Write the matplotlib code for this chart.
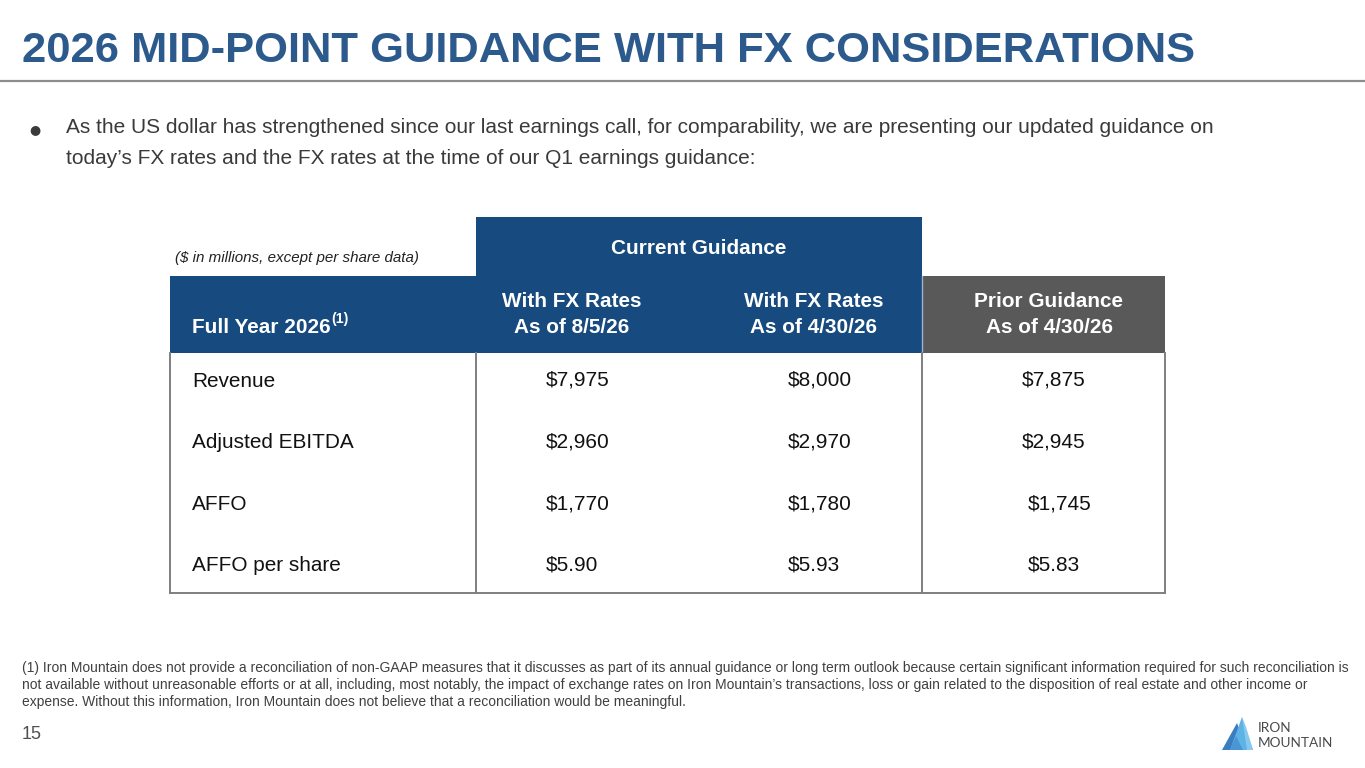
import matplotlib
matplotlib.use("Agg")
import matplotlib.pyplot as plt
from matplotlib import font_manager
from matplotlib.patches import Rectangle, Polygon

# ---------------- data ----------------
title = "2026 MID-POINT GUIDANCE WITH FX CONSIDERATIONS"
bullet_lines = [
    "As the US dollar has strengthened since our last earnings call, for comparability, we are presenting our updated guidance on",
    "today\u2019s FX rates and the FX rates at the time of our Q1 earnings guidance:",
]
units_note = "($ in millions, except per share data)"
group_header = "Current Guidance"
first_col_header = "Full Year 2026"
first_col_sup = "(1)"
col_headers = [
    ["With FX Rates", "As of 8/5/26"],
    ["With FX Rates", "As of 4/30/26"],
    ["Prior Guidance", "As of 4/30/26"],
]
row_labels = ["Revenue", "Adjusted EBITDA", "AFFO", "AFFO per share"]
current_fx_0805 = [7975, 2960, 1770, 5.90]
current_fx_0430 = [8000, 2970, 1780, 5.93]
prior_guidance = [7875, 2945, 1745, 5.83]
footnote_lines = [
    "(1) Iron Mountain does not provide a reconciliation of non-GAAP measures that it discusses as part of its annual guidance or long term outlook because certain significant information required for such reconciliation is",
    "not available without unreasonable efforts or at all, including, most notably, the impact of exchange rates on Iron Mountain\u2019s transactions, loss or gain related to the disposition of real estate and other income or",
    "expense. Without this information, Iron Mountain does not believe that a reconciliation would be meaningful.",
]
page_number = "15"
logo_lines = ["IRON", "MOUNTAIN"]

# ---------------- styles ----------------
names = {f.name for f in font_manager.fontManager.ttflist}
REG = "Liberation Sans" if "Liberation Sans" in names else "DejaVu Sans"
NARROW = "Liberation Sans Narrow" if "Liberation Sans Narrow" in names else REG
LOGO = "Lato" if "Lato" in names else REG

TITLE_BLUE = "#2D5A8C"
HEAD_BLUE = "#174A7E"
HEAD_GRAY = "#595959"
BORDER = "#7F7F7F"
BODY_TXT = "#3A3A3A"

W, H = 1365, 768
fig = plt.figure(figsize=(W / 100, H / 100), dpi=100)
ax = fig.add_axes([0, 0, 1, 1])
ax.set_xlim(0, W)
ax.set_ylim(H, 0)
ax.axis("off")
renderer = fig.canvas.get_renderer()


def text_width(s, size, **kw):
    t = ax.text(0, 0, s, fontsize=size, **kw)
    w = t.get_window_extent(renderer).width
    t.remove()
    return w


def fit(s, target, **kw):
    return 20 * target / text_width(s, 20, **kw)


def fmt(v):
    return f"${v:.2f}" if v < 100 else f"${v:,.0f}"


# ---------------- title ----------------
ts = fit(title, 1173, family=NARROW, weight="bold")
ax.text(22, 62, title, fontsize=ts, family=NARROW, weight="bold",
        color=TITLE_BLUE, va="baseline", ha="left")
ax.plot([0, W], [81, 81], color="#8C8C8C", lw=1.6, solid_capstyle="butt")

# ---------------- bullet ----------------
bs = fit(bullet_lines[0], 1144, family=NARROW)
ax.text(29, 133, "\u25CF", fontsize=bs * 0.62, family="DejaVu Sans",
        color=BODY_TXT, va="baseline", ha="left")
for i, line in enumerate(bullet_lines):
    ax.text(66, 133 + 31 * i, line, fontsize=bs, family=NARROW,
            color=BODY_TXT, va="baseline", ha="left")

# ---------------- table geometry ----------------
x0, x1, x2, x3 = 170, 476, 922, 1165
y_group_top, y_head_top, y_head_bot, y_bot = 217, 276, 353, 593

ax.add_patch(Rectangle((x1, y_group_top), x2 - x1, y_head_bot - y_group_top,
                       facecolor=HEAD_BLUE, edgecolor="none"))
ax.add_patch(Rectangle((x0, y_head_top), x1 - x0, y_head_bot - y_head_top,
                       facecolor=HEAD_BLUE, edgecolor="none"))
ax.add_patch(Rectangle((x2, y_head_top), x3 - x2, y_head_bot - y_head_top,
                       facecolor=HEAD_GRAY, edgecolor="none"))
ax.plot([x2, x2], [y_head_top, y_head_bot], color="#9DB3CC", lw=1.0)

# body borders
for xa in (x0, x1, x2, x3):
    ax.plot([xa, xa], [y_head_bot, y_bot], color=BORDER, lw=1.4)
ax.plot([x0, x3], [y_bot, y_bot], color=BORDER, lw=1.4)

# units note
us = fit(units_note, 243, family=REG, style="italic")
ax.text(175, 262, units_note, fontsize=us, family=REG, style="italic",
        color="#222222", va="baseline", ha="left")

# header texts
hs = fit(col_headers[0][0], 139, family=REG, weight="bold")
ax.text((x1 + x2) / 2, 254, group_header, fontsize=hs, family=REG,
        weight="bold", color="white", va="baseline", ha="center")
col_centers = [572, 814, 1049]
for cx, lines in zip(col_centers, col_headers):
    for j, line in enumerate(lines):
        ax.text(cx, 307 + 26 * j, line, fontsize=hs, family=REG, weight="bold",
                color="white", va="baseline", ha="center")
ax.text(192, 333, first_col_header, fontsize=hs, family=REG, weight="bold",
        color="white", va="baseline", ha="left")
fw = text_width(first_col_header, hs, family=REG, weight="bold")
ax.text(192 + fw + 1, 323, first_col_sup, fontsize=hs * 0.68, family=REG,
        weight="bold", color="white", va="baseline", ha="left")

# body rows
rs = fit("Adjusted EBITDA", 161, family=REG)
vs = fit("$7,975", 64, family=REG)
row_base = [387, 448, 510, 571]
col_left = [546, 788]
col3_left = [1022, 1022, 1028, 1028]
for i, lab in enumerate(row_labels):
    yb = row_base[i]
    ax.text(192, yb, lab, fontsize=rs, family=REG, color="#111111",
            va="baseline", ha="left")
    ax.text(col_left[0], yb - 1, fmt(current_fx_0805[i]), fontsize=vs,
            family=REG, color="#111111", va="baseline", ha="left")
    ax.text(col_left[1], yb - 1, fmt(current_fx_0430[i]), fontsize=vs,
            family=REG, color="#111111", va="baseline", ha="left")
    ax.text(col3_left[i], yb - 1, fmt(prior_guidance[i]), fontsize=vs,
            family=REG, color="#111111", va="baseline", ha="left")

# ---------------- footnote ----------------
fs = fit(footnote_lines[0], 1318, family=NARROW)
for i, line in enumerate(footnote_lines):
    ax.text(22, 672 + 17 * i, line, fontsize=fs, family=NARROW,
            color="#404040", va="baseline", ha="left")

ax.text(22, 739, page_number, fontsize=13, family=NARROW, color="#505050",
        va="baseline", ha="left")

# ---------------- logo ----------------
ax.add_patch(Polygon([(1222, 750), (1237, 723), (1247, 750)], closed=True,
                     facecolor="#3A7EBF", edgecolor="none"))
ax.add_patch(Polygon([(1230, 750), (1242, 717), (1253, 750)], closed=True,
                     facecolor="#5DB2E6", edgecolor="none"))
ax.add_patch(Polygon([(1230, 750), (1236, 736), (1243, 750)], closed=True,
                     facecolor="#4A96D4", edgecolor="none"))
ax.add_patch(Polygon([(1242, 717), (1246, 727), (1253, 750), (1247, 750)],
                     closed=True, facecolor="#86C8EE", edgecolor="none"))
ls = fit("MOUNTAIN", 75, family=LOGO)
ax.text(1258, 732, logo_lines[0], fontsize=ls, family=LOGO,
        color="#4A4A4A", va="baseline", ha="left")
ax.text(1258, 747, logo_lines[1], fontsize=ls, family=LOGO,
        color="#4A4A4A", va="baseline", ha="left")

fig.savefig("out.png", dpi=100, facecolor="white")
